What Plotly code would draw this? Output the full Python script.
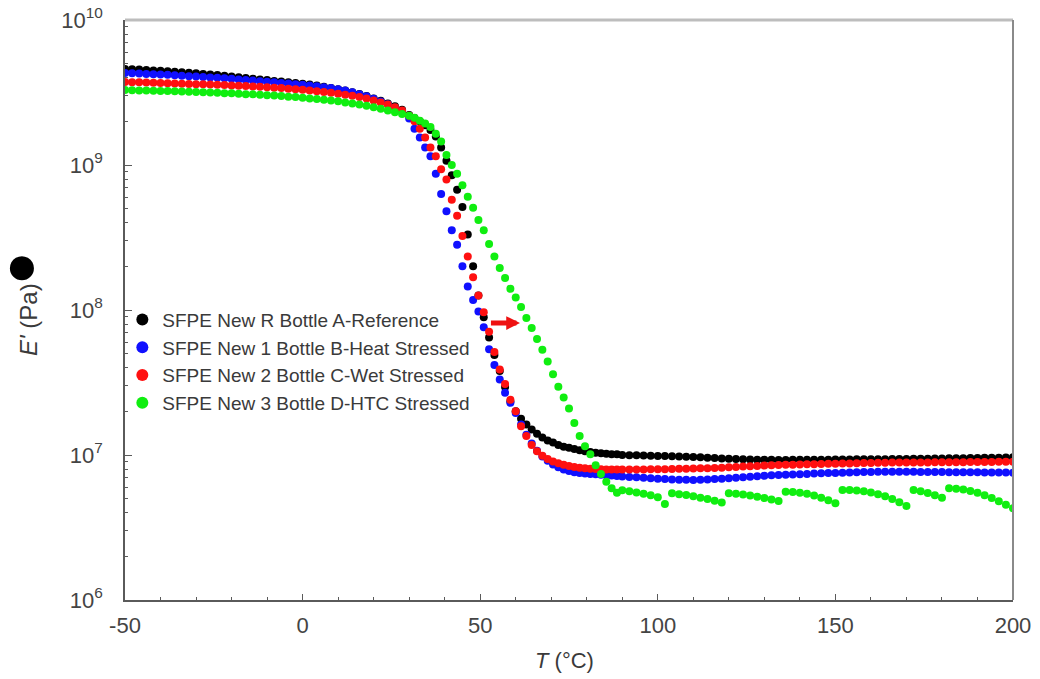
import plotly.graph_objects as go

# Temperature sweep (°C) shared by all four specimens
T_C = [
    -50, -48, -46, -44, -42, -40, -38, -36, -34, -32,
    -30, -28, -26, -24, -22, -20, -18, -16, -14, -12,
    -10, -8, -6, -4, -2, 0, 2, 4, 6, 8,
    10, 12, 14, 16, 18, 20, 22, 24, 26, 28,
    30, 31.5, 33, 34.5, 36, 37.5, 39, 40.5, 42, 43.5,
    45, 46.5, 48, 49.5, 51, 52.5, 54, 55.5, 57, 58.5,
    60, 61.5, 63, 64.5, 66, 67.5, 69, 70.5, 72, 73.5,
    75, 76.5, 78, 79.5, 81, 82.5, 84, 85.5, 87, 88.5,
    90, 92, 94, 96, 98, 100, 102, 104, 106, 108,
    110, 112, 114, 116, 118, 120, 122, 124, 126, 128,
    130, 132, 134, 136, 138, 140, 142, 144, 146, 148,
    150, 152, 154, 156, 158, 160, 162, 164, 166, 168,
    170, 172, 174, 176, 178, 180, 182, 184, 186, 188,
    190, 192, 194, 196, 198, 200,
]

# Storage modulus E' (Pa)
E_REF = [
    4.59e9, 4.57e9, 4.55e9, 4.52e9, 4.49e9, 4.47e9, 4.44e9, 4.40e9, 4.37e9, 4.33e9,
    4.29e9, 4.25e9, 4.21e9, 4.17e9, 4.12e9, 4.07e9, 4.03e9, 3.98e9, 3.94e9, 3.89e9,
    3.85e9, 3.80e9, 3.76e9, 3.72e9, 3.67e9, 3.63e9, 3.59e9, 3.53e9, 3.47e9, 3.40e9,
    3.33e9, 3.26e9, 3.18e9, 3.09e9, 2.99e9, 2.88e9, 2.77e9, 2.66e9, 2.54e9, 2.40e9,
    2.21e9, 2.11e9, 2.00e9, 1.88e9, 1.74e9, 1.57e9, 1.32e9, 1.07e9, 8.51e8, 6.76e8,
    5.13e8, 3.31e8, 2.00e8, 1.26e8, 8.91e7, 6.46e7, 4.90e7, 3.80e7, 2.95e7, 2.34e7,
    2.00e7, 1.78e7, 1.62e7, 1.50e7, 1.40e7, 1.32e7, 1.26e7, 1.22e7, 1.17e7, 1.14e7,
    1.12e7, 1.10e7, 1.08e7, 1.06e7, 1.05e7, 1.035e7, 1.03e7, 1.02e7, 1.01e7, 1.01e7,
    1.00e7, 9.98e6, 9.95e6, 9.93e6, 9.90e6, 9.86e6, 9.83e6, 9.80e6, 9.76e6, 9.72e6,
    9.68e6, 9.63e6, 9.58e6, 9.53e6, 9.47e6, 9.42e6, 9.38e6, 9.34e6, 9.31e6, 9.29e6,
    9.27e6, 9.26e6, 9.25e6, 9.25e6, 9.26e6, 9.27e6, 9.27e6, 9.28e6, 9.29e6, 9.29e6,
    9.30e6, 9.31e6, 9.32e6, 9.33e6, 9.33e6, 9.34e6, 9.35e6, 9.36e6, 9.38e6, 9.39e6,
    9.40e6, 9.41e6, 9.43e6, 9.44e6, 9.45e6, 9.47e6, 9.48e6, 9.50e6, 9.51e6, 9.53e6,
    9.54e6, 9.56e6, 9.58e6, 9.59e6, 9.61e6, 9.63e6,
]

E_HEAT = [
    4.31e9, 4.29e9, 4.27e9, 4.25e9, 4.23e9, 4.21e9, 4.19e9, 4.16e9, 4.13e9, 4.10e9,
    4.07e9, 4.05e9, 4.02e9, 3.99e9, 3.96e9, 3.93e9, 3.89e9, 3.85e9, 3.82e9, 3.78e9,
    3.75e9, 3.72e9, 3.68e9, 3.65e9, 3.61e9, 3.58e9, 3.54e9, 3.49e9, 3.44e9, 3.39e9,
    3.33e9, 3.26e9, 3.18e9, 3.08e9, 2.98e9, 2.86e9, 2.74e9, 2.62e9, 2.48e9, 2.34e9,
    2.09e9, 1.78e9, 1.55e9, 1.32e9, 1.15e9, 8.71e8, 6.31e8, 4.79e8, 3.55e8, 2.82e8,
    2.00e8, 1.45e8, 1.17e8, 9.77e7, 7.59e7, 5.37e7, 4.17e7, 3.31e7, 2.69e7, 2.29e7,
    1.95e7, 1.62e7, 1.38e7, 1.20e7, 1.07e7, 9.77e6, 9.12e6, 8.61e6, 8.22e6, 7.94e6,
    7.76e6, 7.59e6, 7.52e6, 7.46e6, 7.41e6, 7.36e6, 7.31e6, 7.26e6, 7.21e6, 7.16e6,
    7.11e6, 7.06e6, 7.01e6, 6.96e6, 6.91e6, 6.87e6, 6.83e6, 6.79e6, 6.76e6, 6.74e6,
    6.73e6, 6.74e6, 6.77e6, 6.82e6, 6.87e6, 6.92e6, 6.98e6, 7.03e6, 7.09e6, 7.14e6,
    7.19e6, 7.24e6, 7.28e6, 7.32e6, 7.35e6, 7.38e6, 7.41e6, 7.44e6, 7.47e6, 7.50e6,
    7.52e6, 7.54e6, 7.57e6, 7.59e6, 7.62e6, 7.64e6, 7.67e6, 7.67e6, 7.66e6, 7.66e6,
    7.65e6, 7.65e6, 7.64e6, 7.63e6, 7.63e6, 7.62e6, 7.61e6, 7.61e6, 7.60e6, 7.59e6,
    7.59e6, 7.58e6, 7.57e6, 7.57e6, 7.56e6, 7.55e6,
]

E_WET = [
    3.73e9, 3.72e9, 3.72e9, 3.70e9, 3.69e9, 3.67e9, 3.66e9, 3.65e9, 3.64e9, 3.62e9,
    3.61e9, 3.60e9, 3.59e9, 3.57e9, 3.56e9, 3.54e9, 3.52e9, 3.50e9, 3.48e9, 3.46e9,
    3.44e9, 3.41e9, 3.39e9, 3.36e9, 3.33e9, 3.30e9, 3.27e9, 3.23e9, 3.19e9, 3.15e9,
    3.10e9, 3.05e9, 3.00e9, 2.94e9, 2.87e9, 2.79e9, 2.70e9, 2.61e9, 2.50e9, 2.38e9,
    2.19e9, 2.00e9, 1.78e9, 1.55e9, 1.32e9, 1.15e9, 9.33e8, 7.94e8, 5.75e8, 4.47e8,
    3.24e8, 2.34e8, 1.68e8, 1.26e8, 9.66e7, 7.08e7, 5.13e7, 3.89e7, 3.09e7, 2.40e7,
    2.00e7, 1.58e7, 1.35e7, 1.17e7, 1.06e7, 9.89e6, 9.38e6, 9.02e6, 8.77e6, 8.57e6,
    8.39e6, 8.26e6, 8.17e6, 8.09e6, 8.04e6, 8.00e6, 7.96e6, 7.94e6, 7.94e6, 7.94e6,
    7.94e6, 7.94e6, 7.94e6, 7.95e6, 7.96e6, 7.97e6, 7.99e6, 8.01e6, 8.03e6, 8.05e6,
    8.07e6, 8.09e6, 8.10e6, 8.14e6, 8.18e6, 8.23e6, 8.27e6, 8.32e6, 8.37e6, 8.41e6,
    8.45e6, 8.49e6, 8.53e6, 8.56e6, 8.58e6, 8.61e6, 8.63e6, 8.65e6, 8.67e6, 8.69e6,
    8.71e6, 8.73e6, 8.75e6, 8.77e6, 8.79e6, 8.81e6, 8.83e6, 8.85e6, 8.86e6, 8.86e6,
    8.87e6, 8.88e6, 8.89e6, 8.89e6, 8.90e6, 8.91e6, 8.92e6, 8.92e6, 8.93e6, 8.94e6,
    8.95e6, 8.95e6, 8.96e6, 8.97e6, 8.98e6, 8.99e6,
]

E_HTC = [
    3.29e9, 3.28e9, 3.27e9, 3.27e9, 3.25e9, 3.24e9, 3.24e9, 3.22e9, 3.21e9, 3.20e9,
    3.19e9, 3.18e9, 3.16e9, 3.15e9, 3.13e9, 3.12e9, 3.10e9, 3.08e9, 3.07e9, 3.05e9,
    3.03e9, 3.01e9, 2.99e9, 2.96e9, 2.94e9, 2.91e9, 2.88e9, 2.85e9, 2.82e9, 2.79e9,
    2.75e9, 2.70e9, 2.66e9, 2.61e9, 2.56e9, 2.50e9, 2.44e9, 2.38e9, 2.31e9, 2.25e9,
    2.19e9, 2.12e9, 2.02e9, 1.93e9, 1.83e9, 1.64e9, 1.45e9, 1.17e9, 1.00e9, 8.71e8,
    7.24e8, 6.03e8, 5.07e8, 4.17e8, 3.55e8, 2.85e8, 2.34e8, 1.95e8, 1.66e8, 1.40e8,
    1.22e8, 1.05e8, 8.81e7, 7.50e7, 6.31e7, 5.31e7, 4.42e7, 3.61e7, 2.96e7, 2.49e7,
    2.09e7, 1.66e7, 1.35e7, 1.15e7, 1.01e7, 8.51e6, 7.41e6, 6.53e6, 5.89e6, 5.50e6,
    5.71e6, 5.62e6, 5.52e6, 5.41e6, 5.27e6, 5.11e6, 4.59e6, 5.45e6, 5.37e6, 5.30e6,
    5.20e6, 5.08e6, 4.97e6, 4.84e6, 4.70e6, 5.45e6, 5.40e6, 5.33e6, 5.25e6, 5.15e6,
    5.05e6, 4.93e6, 4.81e6, 5.58e6, 5.56e6, 5.50e6, 5.40e6, 5.25e6, 5.07e6, 4.88e6,
    4.65e6, 5.74e6, 5.73e6, 5.69e6, 5.62e6, 5.52e6, 5.37e6, 5.19e6, 4.98e6, 4.73e6,
    4.45e6, 5.73e6, 5.62e6, 5.47e6, 5.27e6, 5.07e6, 5.89e6, 5.86e6, 5.78e6, 5.65e6,
    5.50e6, 5.27e6, 5.05e6, 4.79e6, 4.54e6, 4.29e6,
]

SERIES = [
    ("SFPE New R Bottle A-Reference", E_REF, "#000000"),
    ("SFPE New 1 Bottle B-Heat Stressed", E_HEAT, "#1010ff"),
    ("SFPE New 2 Bottle C-Wet Stressed", E_WET, "#ff1010"),
    ("SFPE New 3 Bottle D-HTC Stressed", E_HTC, "#10ee10"),
]

X_TICKS = [-50, 0, 50, 100, 150, 200]
X_TICK_TEXT = ["-50", "0", "50", "100", "150", "200"]
Y_TICKS = [1e6, 1e7, 1e8, 1e9, 1e10]
Y_TICK_TEXT = ["10<sup>6</sup>", "10<sup>7</sup>", "10<sup>8</sup>", "10<sup>9</sup>", "10<sup>10</sup>"]

FONT = "Liberation Sans, Arial, sans-serif"
AXIS_GREY = "#5a5a5a"
TEXT_GREY = "#3a3a3a"

fig = go.Figure()
for name, values, color in SERIES:
    fig.add_trace(go.Scatter(
        x=T_C, y=values, name=name, mode="markers",
        marker=dict(size=8, color=color, line=dict(width=0)),
    ))

minor_y = [m * 10 ** e for e in range(6, 10) for m in range(2, 10)]

fig.update_layout(
    width=1040, height=679,
    margin=dict(l=125, r=27, t=20, b=79, autoexpand=False),
    paper_bgcolor="white", plot_bgcolor="white",
    font=dict(family=FONT, color=TEXT_GREY),
    showlegend=True,
    legend=dict(
        x=-0.003, y=0.516, xanchor="left", yanchor="top",
        bgcolor="rgba(0,0,0,0)", borderwidth=0,
        font=dict(family=FONT, size=19, color=TEXT_GREY),
        itemsizing="constant", tracegroupgap=0,
    ),
    xaxis=dict(
        range=[-50, 200], tickvals=X_TICKS, ticktext=X_TICK_TEXT,
        showgrid=False, zeroline=False, automargin=False,
        showline=True, linecolor=AXIS_GREY, linewidth=1.5,
        ticks="inside", ticklen=6, tickcolor=AXIS_GREY, tickwidth=1,
        minor=dict(dtick=10, ticks="inside", ticklen=3, tickcolor=AXIS_GREY, showgrid=False),
        tickfont=dict(family=FONT, size=22, color="#444444"),
        ticklabelstandoff=5,
    ),
    yaxis=dict(
        type="log", range=[6, 10], tickvals=Y_TICKS, ticktext=Y_TICK_TEXT,
        showgrid=False, zeroline=False, automargin=False,
        showline=True, linecolor=AXIS_GREY, linewidth=1.5,
        ticks="inside", ticklen=7, tickcolor=AXIS_GREY, tickwidth=1,
        minor=dict(tickvals=minor_y, ticks="inside", ticklen=3, tickcolor=AXIS_GREY, showgrid=False),
        tickfont=dict(family=FONT, size=22, color="#444444"),
        ticklabelstandoff=16,
    ),
)

# frame: top and right borders
fig.add_shape(type="line", xref="paper", yref="paper", x0=0, x1=1, y0=1, y1=1,
              line=dict(color="#bdbdbd", width=3))
fig.add_shape(type="line", xref="paper", yref="paper", x0=1, x1=1, y0=0, y1=1,
              line=dict(color="#8a8a8a", width=2))

# axis titles
fig.add_annotation(
    text="<i>T</i> (°C)", xref="paper", yref="paper", x=0.495, y=-0.105,
    xanchor="center", yanchor="middle",
    showarrow=False, font=dict(family=FONT, size=22, color=TEXT_GREY),
)
fig.add_annotation(
    text="<i>E'</i> (Pa)",
    xref="paper", yref="paper", x=-0.108, y=0.483, textangle=-90,
    xanchor="center", yanchor="middle",
    showarrow=False, font=dict(family=FONT, size=24, color=TEXT_GREY),
)
fig.add_annotation(
    text="●", xref="paper", yref="paper", x=-0.116, y=0.578,
    xanchor="center", yanchor="middle",
    showarrow=False, font=dict(family=FONT, size=56, color="#000000"),
)

# shift arrow between the transition of the Reference and the HTC curves
fig.add_annotation(
    x=61.2, y=7.91, ax=52.6, ay=7.91, xref="x", yref="y", axref="x", ayref="y",
    text="", showarrow=True, arrowhead=2, arrowsize=0.55, arrowwidth=5,
    arrowcolor="#ee1111",
)

fig.write_html("out.html")
